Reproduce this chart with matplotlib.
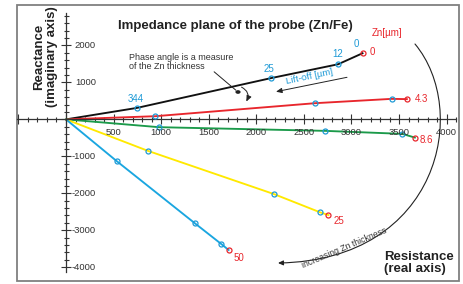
import matplotlib
matplotlib.use("Agg")
import matplotlib.pyplot as plt
from matplotlib.patches import Rectangle, FancyArrowPatch
from matplotlib.path import Path

plt.rcParams['font.family'] = ['Liberation Sans', 'DejaVu Sans']

# Resistance (real) / reactance (imaginary) for each Zn thickness, points at lift-off 344, 25, 12, 0 um
zn_labels = ['0', '4.3', '8.6', '25', '50']
res_zn0 = [0, 747, 2150, 2860, 3116]
rea_zn0 = [0, 311, 1114, 1492, 1789]
res_zn43 = [0, 940, 2618, 3421, 3582]
rea_zn43 = [0, 86, 438, 555, 548]
res_zn86 = [0, 975, 2726, 3533, 3666]
rea_zn86 = [0, -211, -311, -392, -492]
res_zn25 = [0, 860, 2186, 2674, 2758]
rea_zn25 = [0, -851, -2022, -2519, -2589]
res_zn50 = [0, 533, 1351, 1628, 1709]
rea_zn50 = [0, -1130, -2805, -3365, -3535]
liftoff_labels = ['344', '25', '12', '0']

x_ticks = [500, 1000, 1500, 2000, 2500, 3000, 3500, 4000]
y_ticks = [2000, 1000, -1000, -2000, -3000, -4000]

BLUE = '#1e9ad6'
RED = '#e8262c'
series = [
    (res_zn0, rea_zn0, '#111111'),
    (res_zn43, rea_zn43, '#e8262c'),
    (res_zn86, rea_zn86, '#1b9a4a'),
    (res_zn25, rea_zn25, '#ffe900'),
    (res_zn50, rea_zn50, '#1aa6e0'),
]
# label offsets (points) for the Zn thickness labels
zn_offsets = [(5, 1.2), (6, 0), (3.6, -1.7), (3.8, -4), (3.4, -5.5)]

fig = plt.figure(figsize=(4.64, 2.84), dpi=100)
ax = fig.add_axes([17 / 464, 3.5 / 284, 442 / 464, 275.5 / 284])
ax.set_xlim(-515, 4130)
ax.set_ylim(-4360, 3095)

for (r, x, c), lab, off in zip(series, zn_labels, zn_offsets):
    ax.plot(r, x, color=c, lw=1.35, zorder=2)
    ax.plot(r[1:4], x[1:4], 'o', ms=3.6, mfc='none', mec=BLUE, mew=0.9, zorder=3)
    ax.plot(r[-1], x[-1], 'o', ms=3.6, mfc='none', mec=RED, mew=0.9, zorder=3)
    ax.annotate(lab, (r[-1], x[-1]), xytext=off, textcoords='offset points',
                ha='left', va='center', color=RED, fontsize=7)

# lift-off labels along the Zn = 0 curve
lo_offsets = [(-1, 6.5), (-1.1, 6.3), (-0.5, 7.4), (-4.7, 6.7)]
for r, x, lab, off in zip(res_zn0[1:], rea_zn0[1:], liftoff_labels, lo_offsets):
    ax.annotate(lab, (r, x), xytext=off, textcoords='offset points',
                ha='center', va='center', color=BLUE, fontsize=7)

# axes through the origin
for s in ['top', 'right']:
    ax.spines[s].set_visible(False)
ax.spines['left'].set_position(('data', 0))
ax.spines['bottom'].set_position(('data', 0))
ax.spines['left'].set_bounds(-4130, 2880)
ax.spines['bottom'].set_bounds(-515, 4100)
for s in ['left', 'bottom']:
    ax.spines[s].set_color('#333333')
    ax.spines[s].set_linewidth(0.9)

ax.set_xticks(range(-500, 4001, 500))
ax.set_xticks(range(-500, 4101, 100), minor=True)
ax.set_yticks(range(-4000, 2001, 1000))
ax.set_yticks(range(-4000, 2801, 200), minor=True)
ax.tick_params(which='major', direction='inout', length=7.2, width=0.8, color='#333333',
               labelbottom=False, labelleft=False)
ax.tick_params(which='minor', direction='inout', length=3.6, width=0.8, color='#333333')

for v in x_ticks:
    ax.annotate(str(v), (v, 0), xytext=(0, -9.7), textcoords='offset points',
                ha='center', va='center', fontsize=6.8, color='#333333')
for v in y_ticks:
    ax.annotate(str(v), (0, v), xytext=(21.6, 0), textcoords='offset points',
                ha='right', va='center', fontsize=6.8, color='#333333')

# frame
ax.add_patch(Rectangle((0, 0), 1, 1, transform=ax.transAxes, fill=False,
                       ec='#808080', lw=1.3, clip_on=False))

def fx(px):
    return px / 464

def fy(py):
    return (284 - py) / 284

fig.text(fx(235), fy(26), 'Impedance plane of the probe (Zn/Fe)', ha='center', va='center',
         fontsize=9.5, fontweight='bold', color='#222222')
fig.text(fx(45.5), fy(57), 'Reactance\n(imaginary axis)', rotation=90, ha='center', va='center',
         fontsize=9.5, fontweight='bold', color='#222222', linespacing=1.1)
fig.text(fx(384), fy(263), 'Resistance\n(real axis)', ha='left', va='center',
         fontsize=9.5, fontweight='bold', color='#222222', linespacing=1.05)
fig.text(fx(372), fy(33), 'Zn[µm]', ha='left', va='center', fontsize=7, color=RED)

fig.text(fx(129), fy(52.5), 'Phase angle is a measure\nof the Zn thickness', ha='left', va='top',
         fontsize=6.5, color='#333333', linespacing=1.05)
ax.annotate('', xy=(fx(238), fy(92)), xycoords='figure fraction',
            xytext=(fx(212), fy(70)), textcoords='figure fraction',
            arrowprops=dict(arrowstyle='-', color='#222222', lw=0.7))
fig.add_artist(plt.Circle((fx(238), fy(92)), 0.004, transform=fig.transFigure, color='#222222'))
ax.annotate('', xy=(fx(245), fy(104)), xycoords='figure fraction',
            xytext=(fx(239), fy(86)), textcoords='figure fraction',
            arrowprops=dict(arrowstyle='-|>,head_length=0.35,head_width=0.15', color='#222222',
                            lw=0.7, connectionstyle='arc3,rad=-0.6'))

fig.text(fx(309), fy(76.5), 'Lift-off [µm]', rotation=12, ha='center', va='center',
         fontsize=6.8, color=BLUE)
ax.annotate('', xy=(fx(276), fy(91.7)), xycoords='figure fraction',
            xytext=(fx(347), fy(77.3)), textcoords='figure fraction',
            arrowprops=dict(arrowstyle='-|>,head_length=0.35,head_width=0.15', color='#222222',
                            lw=0.7, shrinkA=0, shrinkB=0))

verts = [(fx(415), fy(44)), (fx(470), fy(110)), (fx(440), fy(260)), (fx(278), fy(263))]
arc = FancyArrowPatch(path=Path(verts, [Path.MOVETO, Path.CURVE4, Path.CURVE4, Path.CURVE4]),
                      arrowstyle='-|>,head_length=3,head_width=1.4', color='#222222', lw=0.8,
                      transform=fig.transFigure)
fig.add_artist(arc)
fig.text(fx(344), fy(248), 'increasing Zn thickness', rotation=23, ha='center', va='center',
         fontsize=6.2, color='#333333')

fig.savefig('out.png', dpi=100)
